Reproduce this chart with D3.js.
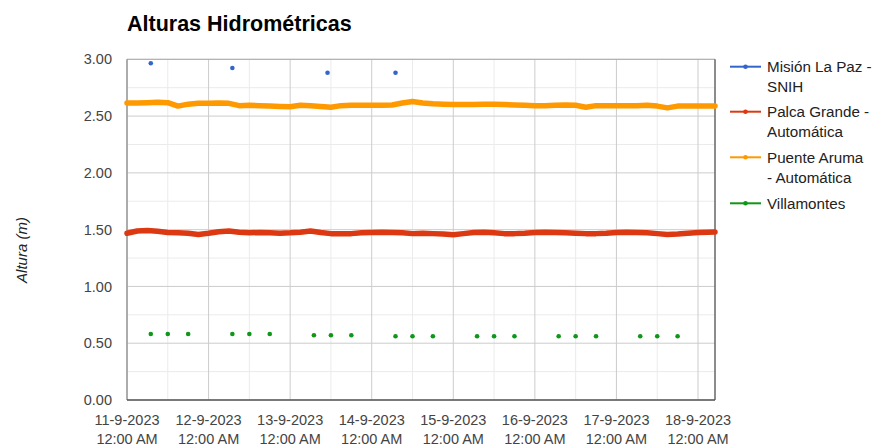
<!DOCTYPE html>
<html>
<head>
<meta charset="utf-8">
<script src="https://cdn.jsdelivr.net/npm/d3@7"></script>
<style>
  body { margin: 0; background: #fff; }
  text { font-family: Arial, "Liberation Sans", sans-serif; }
</style>
</head>
<body>
<div class="chart-container"></div>
<script>
// hours after 11-9-2023 00:00 for the automatic stations
const hours = [0, 3, 6, 9, 12, 15, 18, 21, 24, 27, 30, 33, 36, 39, 42, 45, 48, 51, 54, 57,
  60, 63, 66, 69, 72, 75, 78, 81, 84, 87, 90, 93, 96, 99, 102, 105, 108, 111, 114, 117,
  120, 123, 126, 129, 132, 135, 138, 141, 144, 147, 150, 153, 156, 159, 162, 165, 168, 171, 173];

const puenteAruma = [2.615, 2.615, 2.618, 2.622, 2.618, 2.588, 2.605, 2.612, 2.612, 2.615,
  2.612, 2.592, 2.595, 2.592, 2.588, 2.585, 2.582, 2.595, 2.592, 2.585,
  2.578, 2.592, 2.595, 2.595, 2.595, 2.595, 2.598, 2.615, 2.628, 2.615,
  2.608, 2.605, 2.602, 2.602, 2.602, 2.605, 2.605, 2.602, 2.598, 2.595,
  2.592, 2.592, 2.595, 2.598, 2.595, 2.578, 2.592, 2.592, 2.592, 2.592,
  2.592, 2.595, 2.588, 2.572, 2.588, 2.588, 2.588, 2.588, 2.588];

const palcaGrande = [1.468, 1.488, 1.492, 1.485, 1.475, 1.472, 1.468, 1.458, 1.468, 1.482,
  1.488, 1.478, 1.472, 1.475, 1.472, 1.468, 1.472, 1.478, 1.488, 1.475,
  1.465, 1.465, 1.465, 1.472, 1.475, 1.478, 1.475, 1.472, 1.465, 1.468,
  1.465, 1.462, 1.455, 1.465, 1.475, 1.478, 1.472, 1.465, 1.465, 1.468,
  1.475, 1.478, 1.475, 1.472, 1.468, 1.465, 1.465, 1.468, 1.475, 1.478,
  1.475, 1.472, 1.465, 1.458, 1.462, 1.468, 1.475, 1.478, 1.480];

// manual readings (hours after 11-9-2023 00:00)
const misionHours = [7, 31, 59, 79];
const misionLaPaz = [2.965, 2.923, 2.882, 2.882];

const villaHours = [7, 12, 18, 31, 36, 42, 55, 60, 66, 79, 84, 90, 103, 108, 114, 127, 132, 138, 151, 156, 162];
const villamontes = [0.581, 0.581, 0.581, 0.581, 0.581, 0.581, 0.570, 0.570, 0.570,
  0.561, 0.561, 0.561, 0.561, 0.561, 0.561, 0.561, 0.561, 0.561, 0.561, 0.561, 0.561];

const yTicks = [0, 0.5, 1, 1.5, 2, 2.5, 3];
const seriesNames = [["Misión La Paz -", "SNIH"], ["Palca Grande -", "Automática"],
  ["Puente Aruma", "- Automática"], ["Villamontes"]];
const colors = ["#3366cc", "#dc3912", "#ff9900", "#109618"];

const width = 873, height = 446;
const plotLeft = 127, plotRight = 715, plotTop = 59.3, plotBottom = 400;

const start = new Date(2023, 8, 11, 0);
const toDate = h => new Date(2023, 8, 11, h);

const svg = d3.select(".chart-container")
  .append("svg")
  .attr("width", width)
  .attr("height", height);

const x = d3.scaleTime()
  .domain([start, toDate(173)])
  .range([plotLeft, plotRight]);

const y = d3.scaleLinear()
  .domain([0, 3])
  .range([plotBottom, plotTop]);

// minor gridlines
svg.append("g")
  .selectAll("line")
  .data(d3.timeHour.every(12).range(start, toDate(174)).filter(d => d.getHours() === 12))
  .join("line")
  .attr("x1", d => x(d)).attr("x2", d => x(d))
  .attr("y1", plotTop).attr("y2", plotBottom)
  .attr("stroke", "#ebebeb");

svg.append("g")
  .selectAll("line")
  .data(d3.range(0.25, 3, 0.5))
  .join("line")
  .attr("x1", plotLeft).attr("x2", plotRight)
  .attr("y1", d => y(d)).attr("y2", d => y(d))
  .attr("stroke", "#ebebeb");

// major gridlines
const days = d3.timeDay.range(start, toDate(174));
svg.append("g")
  .selectAll("line")
  .data(days)
  .join("line")
  .attr("x1", d => x(d)).attr("x2", d => x(d))
  .attr("y1", plotTop).attr("y2", plotBottom)
  .attr("stroke", "#cccccc");

svg.append("g")
  .selectAll("line")
  .data(yTicks)
  .join("line")
  .attr("x1", plotLeft).attr("x2", plotRight)
  .attr("y1", d => y(d)).attr("y2", d => y(d))
  .attr("stroke", "#cccccc");

// frame
svg.append("line").attr("x1", plotLeft).attr("x2", plotRight).attr("y1", plotTop).attr("y2", plotTop)
  .attr("stroke", "#aaaaaa");
svg.append("line").attr("x1", plotLeft).attr("x2", plotLeft).attr("y1", plotTop).attr("y2", plotBottom)
  .attr("stroke", "#999999").attr("stroke-width", 1.5);
svg.append("line").attr("x1", plotRight).attr("x2", plotRight).attr("y1", plotTop).attr("y2", plotBottom)
  .attr("stroke", "#666666").attr("stroke-width", 1.5);
svg.append("line").attr("x1", plotLeft).attr("x2", plotRight).attr("y1", plotBottom).attr("y2", plotBottom)
  .attr("stroke", "#555555").attr("stroke-width", 1.5);

// y labels
svg.append("g")
  .selectAll("text")
  .data(yTicks)
  .join("text")
  .attr("x", 112)
  .attr("y", d => y(d))
  .attr("dy", "0.35em")
  .attr("text-anchor", "end")
  .attr("font-size", 14.5)
  .attr("fill", "#444")
  .text(d3.format(".2f"));

// x labels
const fmtDay = d3.timeFormat("%-d-%-m-%Y");
const fmtTime = d3.timeFormat("%-I:%M %p");
svg.append("g")
  .selectAll("g")
  .data(days)
  .join("g")
  .attr("transform", d => `translate(${x(d)},0)`)
  .call(g => g.append("text")
    .attr("y", 425)
    .attr("text-anchor", "middle")
    .attr("font-size", 14.5)
    .attr("fill", "#444")
    .text(fmtDay))
  .call(g => g.append("text")
    .attr("y", 444)
    .attr("text-anchor", "middle")
    .attr("font-size", 14.5)
    .attr("fill", "#444")
    .text(fmtTime));

// axis title
svg.append("text")
  .attr("transform", "translate(27,250) rotate(-90)")
  .attr("text-anchor", "middle")
  .attr("font-size", 15)
  .attr("font-style", "italic")
  .attr("fill", "#222")
  .text("Altura (m)");

// chart title
svg.append("text")
  .attr("x", 127)
  .attr("y", 31)
  .attr("font-size", 21.5)
  .attr("font-weight", "bold")
  .attr("fill", "#000")
  .text("Alturas Hidrométricas");

// continuous series
const line = d3.line()
  .x(d => x(toDate(d[0])))
  .y(d => y(d[1]));

[[palcaGrande, colors[1]], [puenteAruma, colors[2]]].forEach(([vals, c]) => {
  svg.append("path")
    .datum(hours.map((h, i) => [h, vals[i]]))
    .attr("fill", "none")
    .attr("stroke", c)
    .attr("stroke-width", 5.5)
    .attr("stroke-linejoin", "round")
    .attr("stroke-linecap", "round")
    .attr("d", line);
});

// point series
[[misionHours, misionLaPaz, colors[0]], [villaHours, villamontes, colors[3]]].forEach(([hs, vals, c]) => {
  svg.append("g")
    .attr("fill", c)
    .selectAll("circle")
    .data(hs.map((h, i) => [h, vals[i]]))
    .join("circle")
    .attr("cx", d => x(toDate(d[0])))
    .attr("cy", d => y(d[1]))
    .attr("r", 2.3);
});

// legend
const legendY = [66.7, 111.7, 157.3, 203.3];
const legend = svg.append("g")
  .selectAll("g")
  .data(seriesNames)
  .join("g")
  .attr("transform", (d, i) => `translate(730,${legendY[i]})`);

legend.append("line")
  .attr("x2", 31)
  .attr("stroke", (d, i) => colors[i])
  .attr("stroke-width", 2);
legend.append("circle")
  .attr("cx", 15.5)
  .attr("r", 2.3)
  .attr("fill", (d, i) => colors[i]);
legend.append("text")
  .attr("x", 37)
  .attr("font-size", 15.2)
  .attr("fill", "#222")
  .selectAll("tspan")
  .data(d => d)
  .join("tspan")
  .attr("x", 37)
  .attr("y", (d, i) => i * 20)
  .attr("dy", "0.35em")
  .text(d => d);
</script>
</body>
</html>
